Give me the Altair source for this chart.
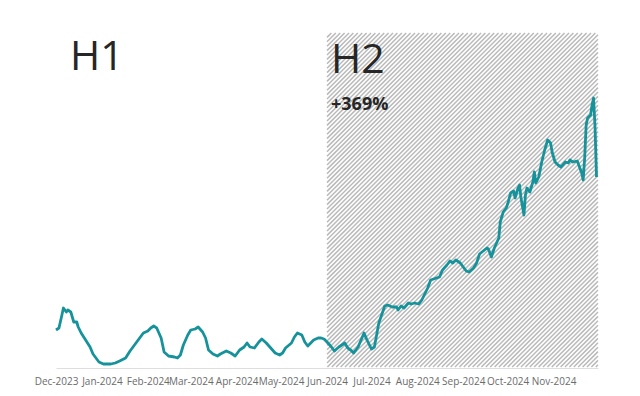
import altair as alt
import pandas as pd

# ---------------- data ----------------
dates = [
    "2023-12-01", "2023-12-03", "2023-12-05", "2023-12-06", "2023-12-08", "2023-12-09",
    "2023-12-11", "2023-12-13", "2023-12-15", "2023-12-16", "2023-12-18", "2023-12-21",
    "2023-12-24", "2023-12-26", "2023-12-30", "2024-01-02", "2024-01-07", "2024-01-10",
    "2024-01-13", "2024-01-17", "2024-01-20", "2024-01-24", "2024-01-26", "2024-01-29",
    "2024-02-01", "2024-02-03", "2024-02-05", "2024-02-07", "2024-02-10", "2024-02-12",
    "2024-02-15", "2024-02-19", "2024-02-21", "2024-02-23", "2024-02-25", "2024-02-28",
    "2024-03-01", "2024-03-04", "2024-03-06", "2024-03-09", "2024-03-11", "2024-03-13",
    "2024-03-16", "2024-03-19", "2024-03-21", "2024-03-25", "2024-03-28", "2024-03-31",
    "2024-04-03", "2024-04-06", "2024-04-08", "2024-04-10", "2024-04-13", "2024-04-16",
    "2024-04-18", "2024-04-21", "2024-04-24", "2024-04-27", "2024-04-30", "2024-05-02",
    "2024-05-04", "2024-05-08", "2024-05-10", "2024-05-12", "2024-05-15", "2024-05-17",
    "2024-05-19", "2024-05-21", "2024-05-23", "2024-05-26", "2024-05-28", "2024-05-30",
    "2024-06-01", "2024-06-04", "2024-06-06", "2024-06-09", "2024-06-13", "2024-06-15",
    "2024-06-17", "2024-06-19", "2024-06-22", "2024-06-26", "2024-06-28", "2024-07-01",
    "2024-07-03", "2024-07-06", "2024-07-10", "2024-07-12", "2024-07-15", "2024-07-18",
    "2024-07-19", "2024-07-21", "2024-07-23", "2024-07-26", "2024-07-28", "2024-07-30",
    "2024-08-02", "2024-08-04", "2024-08-08", "2024-08-10", "2024-08-14", "2024-08-16",
    "2024-08-18", "2024-08-21", "2024-08-23", "2024-08-25", "2024-08-27", "2024-08-30",
    "2024-09-01", "2024-09-03", "2024-09-05", "2024-09-08", "2024-09-10", "2024-09-12",
    "2024-09-17", "2024-09-18", "2024-09-20", "2024-09-22", "2024-09-25", "2024-09-26",
    "2024-09-28", "2024-09-30", "2024-10-01", "2024-10-03", "2024-10-05", "2024-10-06",
    "2024-10-08", "2024-10-09", "2024-10-10", "2024-10-12", "2024-10-13", "2024-10-14",
    "2024-10-16", "2024-10-18", "2024-10-19", "2024-10-20", "2024-10-22", "2024-10-24",
    "2024-10-26", "2024-10-28", "2024-10-30", "2024-10-31", "2024-11-02", "2024-11-04",
    "2024-11-06", "2024-11-09", "2024-11-11", "2024-11-12", "2024-11-14", "2024-11-17",
    "2024-11-18", "2024-11-20", "2024-11-21", "2024-11-22", "2024-11-23", "2024-11-24",
    "2024-11-26", "2024-11-27", "2024-11-28", "2024-11-29", "2024-11-30",
]
values = [
    37, 39, 52, 59, 55, 57,
    55, 45, 45, 40, 34, 27,
    20, 13, 5, 3, 3, 4,
    6, 9, 16, 24, 28, 34,
    36, 39, 41, 39, 29, 15,
    11, 10, 9, 12, 22, 32,
    37, 38, 40, 35, 29, 17,
    13, 11, 13, 16, 14, 11,
    17, 20, 24, 20, 19, 25,
    28, 24, 19, 14, 12, 14,
    19, 24, 30, 34, 32, 25,
    21, 24, 27, 29, 29, 28,
    25, 20, 16, 20, 24, 19,
    17, 14, 20, 34, 27, 18,
    20, 44, 61, 62, 60, 60,
    57, 61, 59, 64, 63, 64,
    63, 67, 79, 87, 89, 90,
    97, 102, 106, 104, 107, 104,
    100, 96, 95, 99, 104, 113,
    119, 118, 110, 119, 129, 145,
    155, 159, 163, 174, 176, 169,
    179, 182, 169, 152, 172, 179,
    175, 185, 195, 184, 190, 205,
    217, 227, 224, 215, 205, 202,
    200, 205, 204, 207, 205, 206,
    202, 194, 187, 209, 242, 249,
    252, 262, 269, 240, 190,
]

month_ticks = ["2023-12-01", "2024-01-01", "2024-02-01", "2024-03-01", "2024-04-01",
               "2024-05-01", "2024-06-01", "2024-07-01", "2024-08-01", "2024-09-01",
               "2024-10-01", "2024-11-01"]

period_start = ["2024-06-01"]
period_end = ["2024-12-01"]
domain_start = "2023-12-01"
domain_end = "2024-12-01"

half_labels = ["H1", "H2"]
change_label = ["+369%"]

# ---------------- layout ----------------
W, H = 542, 334
YMAX = 334
TEAL = "#16929b"
FONT = "Open Sans"

def ms(s):
    return int(pd.Timestamp(s, tz="UTC").value // 10**6)

t0, t1 = ms(domain_start), ms(domain_end)
ps, pe = ms(period_start[0]), ms(period_end[0])
X0 = (ps - t0) / (t1 - t0) * W
X1 = (pe - t0) / (t1 - t0) * W
STEP = 4.4
n_lines = int((X1 + H - X0) / STEP) + 2

xscale = alt.Scale(type="utc", domain=[t0, t1])
yscale = alt.Scale(domain=[0, YMAX], zero=False, nice=False)
xaxis = alt.Axis(values=[ms(m) for m in month_ticks],
                 labelExpr="utcFormat(datum.value, '%b-%Y')",
                 title=None, grid=False, ticks=False, labelFlush=False,
                 domainColor="#dedede", domainWidth=1, labelColor="#6b6b6b",
                 labelFont=FONT, labelFontSize=10, labelPadding=8,
                 labelOverlap=False, offset=1)

df = pd.DataFrame({"date": dates, "value": values})

# hatch lines for the H2 period (x + y = c, clipped to the period rectangle)
hatch = alt.Chart(alt.sequence(0, n_lines, as_="i")).transform_calculate(
    c=f"{X0} + datum.i * {STEP}",
    ya=f"min({H}, datum.c - {X0})",
    xa="datum.c - datum.ya",
    yb=f"max(0, datum.c - {X1})",
    xb="datum.c - datum.yb",
).transform_filter(
    "datum.xa <= datum.xb + 0.001"
).transform_calculate(
    ta=f"{t0} + datum.xa / {W} * {t1 - t0}",
    tb=f"{t0} + datum.xb / {W} * {t1 - t0}",
    va=f"({H} - datum.ya) * {YMAX} / {H}",
    vb=f"({H} - datum.yb) * {YMAX} / {H}",
).mark_rule(stroke="#b9b9b9", strokeWidth=1.5).encode(
    x=alt.X("ta:T", scale=xscale, axis=xaxis),
    x2="tb:T",
    y=alt.Y("va:Q", scale=yscale, axis=None),
    y2="vb:Q",
)

line = alt.Chart(df).mark_line(color=TEAL, strokeWidth=2.8, strokeJoin="round").encode(
    x=alt.X("date:T", scale=xscale, axis=xaxis),
    y=alt.Y("value:Q", scale=yscale, axis=None),
)

big_text = alt.Chart(pd.DataFrame({"label": half_labels, "px": [14, 275], "py": [37, 40]})).mark_text(
    font=FONT, fontSize=41, color="#262626", align="left", baseline="alphabetic"
).encode(x=alt.X("px:Q", scale=None), y=alt.Y("py:Q", scale=None), text="label:N")

pct_text = alt.Chart(pd.DataFrame({"label": change_label})).mark_text(
    font=FONT, fontSize=18, fontWeight="bold", color="#262626", align="left",
    baseline="alphabetic"
).encode(x=alt.value(275), y=alt.value(77), text="label:N")

chart = alt.layer(hatch, line, big_text, pct_text).properties(
    width=W, height=H,
    autosize=alt.AutoSizeParams(type="none"),
    padding={"left": 48, "top": 25, "right": 20, "bottom": 30},
).configure(background="white").configure_view(stroke=None, strokeWidth=0)

chart.save("out.html", embed_options={"renderer": "svg", "actions": False})
